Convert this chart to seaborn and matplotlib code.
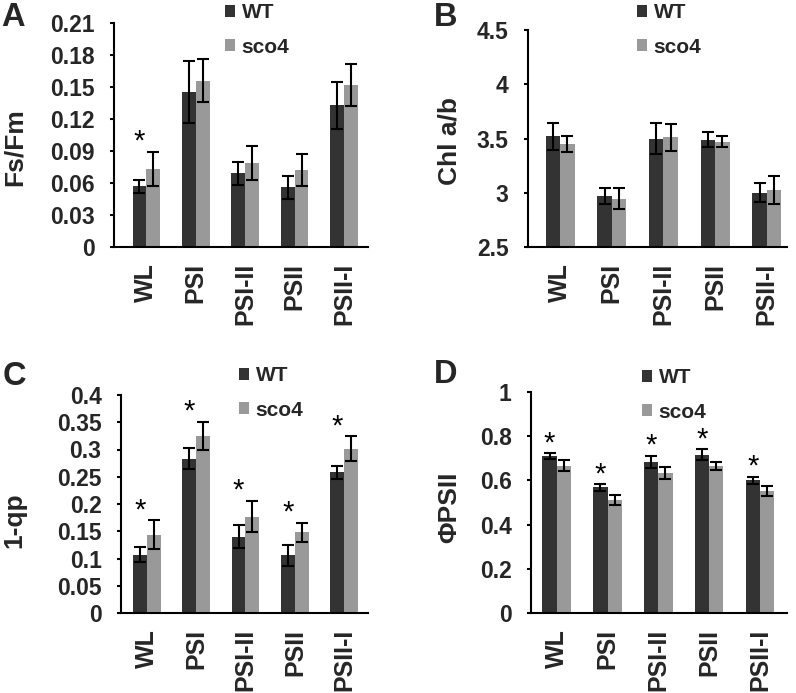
import numpy as np
import pandas as pd
import matplotlib
matplotlib.use("Agg")
import matplotlib.pyplot as plt
import seaborn as sns

# ---------------- data ----------------
categories = ["WL", "PSI", "PSI-II", "PSII", "PSII-I"]
genotypes = ["WT", "sco4"]

fsfm_wt = [0.057, 0.145, 0.069, 0.056, 0.133]
fsfm_wt_err = [0.006, 0.029, 0.011, 0.011, 0.022]
fsfm_sco4 = [0.073, 0.156, 0.079, 0.072, 0.152]
fsfm_sco4_err = [0.016, 0.020, 0.016, 0.015, 0.020]
fsfm_sig = [True, False, False, False, False]

chl_wt = [3.52, 2.97, 3.50, 3.49, 3.00]
chl_wt_err = [0.125, 0.07, 0.14, 0.068, 0.086]
chl_sco4 = [3.45, 2.945, 3.51, 3.47, 3.025]
chl_sco4_err = [0.07, 0.095, 0.125, 0.05, 0.13]
chl_sig = [False, False, False, False, False]

qp_wt = [0.107, 0.283, 0.140, 0.106, 0.258]
qp_wt_err = [0.0135, 0.019, 0.021, 0.019, 0.012]
qp_sco4 = [0.144, 0.325, 0.177, 0.148, 0.301]
qp_sco4_err = [0.026, 0.026, 0.029, 0.018, 0.023]
qp_sig = [True, True, True, True, True]

phi_wt = [0.710, 0.568, 0.683, 0.717, 0.600]
phi_wt_err = [0.012, 0.015, 0.027, 0.023, 0.017]
phi_sco4 = [0.666, 0.511, 0.635, 0.665, 0.552]
phi_sco4_err = [0.025, 0.022, 0.027, 0.018, 0.022]
phi_sig = [True, True, True, True, True]

a_ticks = [0, 0.03, 0.06, 0.09, 0.12, 0.15, 0.18, 0.21]
a_ticklabels = ["0", "0.03", "0.06", "0.09", "0.12", "0.15", "0.18", "0.21"]
b_ticks = [2.5, 3, 3.5, 4, 4.5]
b_ticklabels = ["2.5", "3", "3.5", "4", "4.5"]
c_ticks = [0, 0.05, 0.1, 0.15, 0.2, 0.25, 0.3, 0.35, 0.4]
c_ticklabels = ["0", "0.05", "0.1", "0.15", "0.2", "0.25", "0.3", "0.35", "0.4"]
d_ticks = [0, 0.2, 0.4, 0.6, 0.8, 1]
d_ticklabels = ["0", "0.2", "0.4", "0.6", "0.8", "1"]

colors = {"WT": "#333333", "sco4": "#999999"}

# ---------------- style ----------------
sns.set_theme(style="white")
plt.rcParams["font.family"] = ["Liberation Sans", "DejaVu Sans"]
plt.rcParams["font.weight"] = "bold"

W, H = 796, 693
fig = plt.figure(figsize=(W / 100, H / 100), dpi=100)


def px_axes(left, right, top, bottom):
    return fig.add_axes([left / W, 1 - bottom / H, (right - left) / W, (bottom - top) / H])


panels = [
    dict(box=(114, 368, 23, 247), wt=fsfm_wt, wte=fsfm_wt_err, mu=fsfm_sco4, mue=fsfm_sco4_err,
         sig=fsfm_sig, ticks=a_ticks, tl=a_ticklabels, ylabel="Fs/Fm", xlim=(-0.656, 4.486),
         ylab_x=-0.39, ylab_y=0.446, leg=(225, 3), letter="A", let_xy=(1, 26)),
    dict(box=(528, 787, 30, 247), wt=chl_wt, wte=chl_wt_err, mu=chl_sco4, mue=chl_sco4_err,
         sig=chl_sig, ticks=b_ticks, tl=b_ticklabels, ylabel="Chl a/b", xlim=(-0.62, 4.39),
         ylab_x=-0.305, ylab_y=0.49, leg=(637, 3), letter="B", let_xy=(434, 26)),
    dict(box=(121, 368, 395, 613), wt=qp_wt, wte=qp_wt_err, mu=qp_sco4, mue=qp_sco4_err,
         sig=qp_sig, ticks=c_ticks, tl=c_ticklabels, ylabel="1-qp", xlim=(-0.52, 4.48),
         ylab_x=-0.43, ylab_y=0.427, leg=(239, 366), letter="C", let_xy=(3, 385)),
    dict(box=(531, 787, 392, 613), wt=phi_wt, wte=phi_wt_err, mu=phi_sco4, mue=phi_sco4_err,
         sig=phi_sig, ticks=d_ticks, tl=d_ticklabels, ylabel="ΦPSII", xlim=(-0.505, 4.53),
         ylab_x=-0.32, ylab_y=0.48, leg=(642, 368), letter="D", let_xy=(434, 383)),
]

for p in panels:
    ax = px_axes(*p["box"])
    df = pd.DataFrame({
        "category": categories * 2,
        "genotype": ["WT"] * len(categories) + ["sco4"] * len(categories),
        "value": list(p["wt"]) + list(p["mu"]),
    })
    sns.barplot(data=df, x="category", y="value", hue="genotype", order=categories,
                hue_order=genotypes, palette=colors, width=0.56, errorbar=None,
                saturation=1, linewidth=0, ax=ax)
    errs = [p["wte"], p["mue"]]
    vals = [p["wt"], p["mu"]]
    bar_conts = list(ax.containers)
    wt_centers = []
    for ci, cont in enumerate(bar_conts):
        xs = [b.get_x() + b.get_width() / 2 for b in cont]
        if ci == 0:
            wt_centers = xs
        ax.errorbar(xs, vals[ci], yerr=errs[ci], fmt="none", ecolor="black",
                    elinewidth=1.5, capsize=4.3, capthick=1.5, zorder=5)
    # significance asterisks
    for i, s in enumerate(p["sig"]):
        if s:
            top = max(p["wt"][i] + p["wte"][i], p["mu"][i] + p["mue"][i])
            ax.annotate("*", xy=(wt_centers[i], top), xytext=(0, 1.5),
                        textcoords="offset points", ha="center", va="baseline",
                        fontsize=21, fontweight="normal", color="black", zorder=6)
    ax.set_xlim(*p["xlim"])
    ax.set_ylim(p["ticks"][0], p["ticks"][-1])
    ax.set_yticks(p["ticks"])
    ax.set_yticklabels(p["tl"], fontsize=16.5, fontweight="bold")
    ax.set_xticks(range(len(categories)))
    ax.set_xticklabels(categories, rotation=90, fontsize=18, fontweight="bold",
                       ha="center", va="top")
    ax.tick_params(axis="x", length=0, pad=11.5)
    ax.tick_params(axis="y", length=3, width=1.5, pad=11, direction="out", left=True,
                   color="black")
    ax.set_xlabel("")
    ax.set_ylabel(p["ylabel"], fontsize=19, fontweight="bold")
    ax.yaxis.set_label_coords(p["ylab_x"], p["ylab_y"])
    ax.yaxis.label.set_verticalalignment("center")
    for side in ["top", "right"]:
        ax.spines[side].set_visible(False)
    for side in ["left", "bottom"]:
        ax.spines[side].set_color("black")
        ax.spines[side].set_linewidth(1.5)
    ax.set_facecolor("none")
    lx, ly = p["leg"]
    sns.move_legend(ax, loc="upper left", bbox_to_anchor=(lx / W, 1 - ly / H),
                    bbox_transform=fig.transFigure, frameon=False, title=None,
                    prop={"size": 15, "weight": "bold"}, handlelength=0.5,
                    handleheight=0.5, handletextpad=0.3, labelspacing=0.75,
                    borderpad=0, borderaxespad=0)
    lxp, lyp = p["let_xy"]
    fig.text(lxp / W, 1 - lyp / H, p["letter"], fontsize=23.5, fontweight="bold",
             ha="left", va="baseline")

fig.savefig("out.png", dpi=100)
